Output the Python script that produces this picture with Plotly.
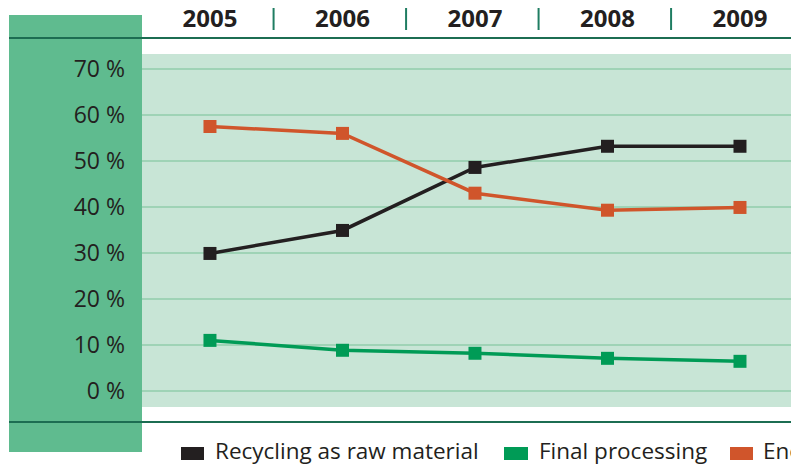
import plotly.graph_objects as go

years = [2005, 2006, 2007, 2008, 2009]
year_labels = ["2005", "2006", "2007", "2008", "2009"]
recycling = [29.9, 34.9, 48.6, 53.2, 53.2]
final_processing = [11.0, 8.85, 8.2, 7.1, 6.45]
energy_recovery = [57.5, 56.0, 43.0, 39.3, 39.9]
y_ticks = [0, 10, 20, 30, 40, 50, 60, 70]
y_tick_labels = [f"{v} %" for v in y_ticks]
series_names = ["Recycling as raw material", "Final processing", "Energy recovery"]

C_BLACK = "#231f20"
C_GREEN = "#009b56"
C_ORANGE = "#d0552b"
C_PANEL = "#5fbb8f"
C_PLOTBG = "#c8e5d6"
C_GRID = "#9fd3b6"
C_LINE = "#1c6d52"
FONT = "Open Sans"

W, H = 791, 465
L, R, T, B = 142, 791, 54, 407


def px(x):
    return (x - L) / (R - L)


def py(y):
    return (B - y) / (B - T)


fig = go.Figure()
for name, vals, col in [
    (series_names[0], recycling, C_BLACK),
    (series_names[1], final_processing, C_GREEN),
    (series_names[2], energy_recovery, C_ORANGE),
]:
    fig.add_trace(go.Scatter(
        x=years, y=vals, mode="lines+markers", name=name,
        line=dict(color=col, width=3.5),
        marker=dict(symbol="square", size=13, color=col),
        showlegend=False, cliponaxis=False,
    ))

shapes = []
shapes.append(dict(type="rect", xref="paper", yref="paper",
                   x0=px(9), x1=px(142), y0=py(452), y1=py(15),
                   fillcolor=C_PANEL, line=dict(width=0), layer="below"))
for yy in (38, 422):
    shapes.append(dict(type="line", xref="paper", yref="paper",
                       x0=px(9), x1=1, y0=py(yy), y1=py(yy),
                       line=dict(color=C_LINE, width=2), layer="above"))
for i in range(len(years) - 1):
    xm = (years[i] + years[i + 1]) / 2 - 0.02
    shapes.append(dict(type="line", xref="x", yref="paper",
                       x0=xm, x1=xm, y0=py(30), y1=py(8),
                       line=dict(color="#1f7d62", width=2), layer="above"))

legend_items = [
    (181, 204, 213, series_names[0], C_BLACK),
    (504, 528, 537, series_names[1], C_GREEN),
    (730, 753, 761, series_names[2], C_ORANGE),
]
annotations = []
for x0, x1, tx, name, col in legend_items:
    shapes.append(dict(type="rect", xref="paper", yref="paper",
                       x0=px(x0), x1=px(x1), y0=py(460), y1=py(447),
                       fillcolor=col, line=dict(width=0)))
    annotations.append(dict(xref="paper", yref="paper", x=px(tx), y=py(450.5),
                            xanchor="left", yanchor="middle", showarrow=False,
                            text=name, font=dict(family=FONT, size=22.5, color=C_BLACK)))

fig.update_layout(
    width=W, height=H,
    margin=dict(l=L, r=W - R, t=T, b=H - B, pad=0),
    paper_bgcolor="white",
    plot_bgcolor=C_PLOTBG,
    shapes=shapes,
    annotations=annotations,
    showlegend=False,
    xaxis=dict(
        range=[2004.487, 2009.385], side="top",
        tickvals=years, ticktext=year_labels,
        tickfont=dict(family=FONT, size=24, color=C_BLACK, weight="bold"),
        showgrid=False, zeroline=False, showline=False, ticks="",
        ticklabelstandoff=21,
    ),
    yaxis=dict(
        range=[-3.48, 73.26],
        tickvals=y_ticks, ticktext=y_tick_labels,
        tickfont=dict(family=FONT, size=23, color=C_BLACK),
        showgrid=True, gridcolor=C_GRID, gridwidth=1.5,
        zeroline=False, showline=False, ticks="",
        ticklabelstandoff=16,
    ),
)

fig.write_html("out.html", config={"displayModeBar": False},
               post_script="document.body.style.margin='0';document.body.style.overflow='hidden';")
